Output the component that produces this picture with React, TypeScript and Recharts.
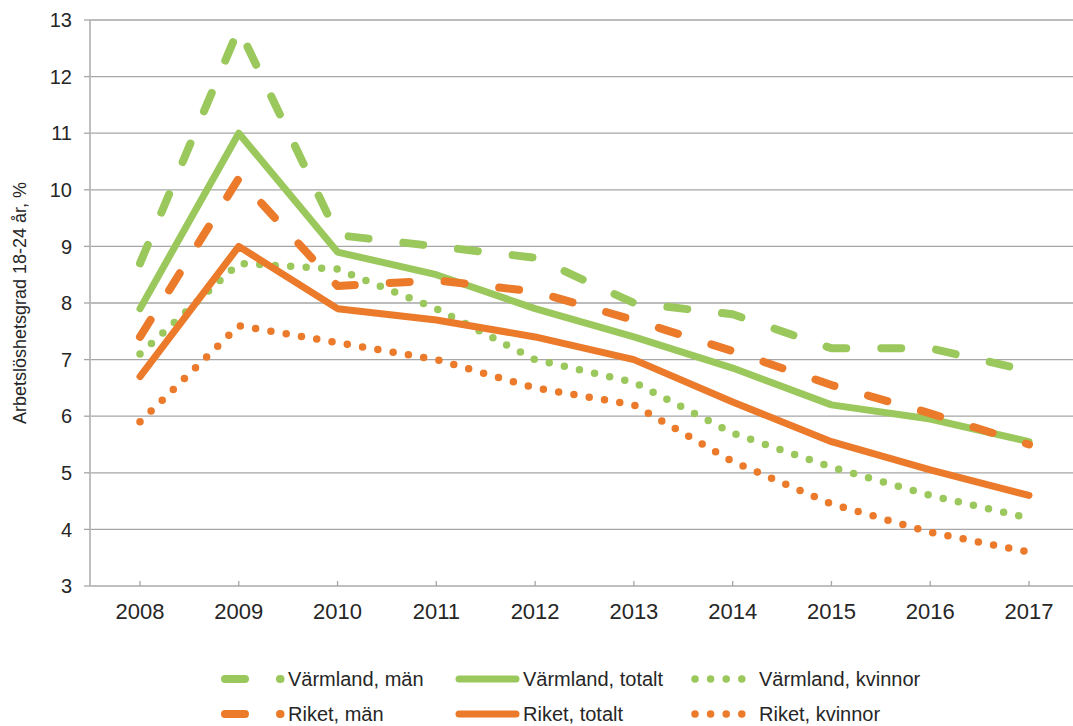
import React from 'react';
import { LineChart, Line, XAxis, YAxis, CartesianGrid } from 'recharts';

const years = ['2008', '2009', '2010', '2011', '2012', '2013', '2014', '2015', '2016', '2017'];
const varmlandMan = [8.7, 12.85, 9.2, 9.0, 8.8, 8.0, 7.8, 7.2, 7.2, 6.8];
const varmlandTotalt = [7.9, 11.0, 8.9, 8.5, 7.9, 7.4, 6.85, 6.2, 5.95, 5.55];
const varmlandKvinnor = [7.1, 8.7, 8.6, 7.9, 7.0, 6.6, 5.7, 5.1, 4.6, 4.2];
const riketMan = [7.4, 10.2, 8.3, 8.4, 8.2, 7.7, 7.15, 6.55, 6.05, 5.5];
const riketTotalt = [6.7, 9.0, 7.9, 7.7, 7.4, 7.0, 6.25, 5.55, 5.05, 4.6];
const riketKvinnor = [5.9, 7.6, 7.3, 7.0, 6.5, 6.2, 5.2, 4.45, 3.95, 3.6];
const yTicks = [3, 4, 5, 6, 7, 8, 9, 10, 11, 12, 13];

const GREEN = '#9BC85C';
const ORANGE = '#EB7A2A';
const DASH = '20 35';
const DOT = '0 15.5';

const series = [
  { key: 'vm', name: 'Värmland, män', values: varmlandMan, color: GREEN, kind: 'dash' },
  { key: 'vt', name: 'Värmland, totalt', values: varmlandTotalt, color: GREEN, kind: 'solid' },
  { key: 'vk', name: 'Värmland, kvinnor', values: varmlandKvinnor, color: GREEN, kind: 'dot' },
  { key: 'rm', name: 'Riket, män', values: riketMan, color: ORANGE, kind: 'dash' },
  { key: 'rt', name: 'Riket, totalt', values: riketTotalt, color: ORANGE, kind: 'solid' },
  { key: 'rk', name: 'Riket, kvinnor', values: riketKvinnor, color: ORANGE, kind: 'dot' },
];

const data = years.map((y, i) => {
  const row: any = { year: y };
  series.forEach((s) => { row[s.key] = s.values[i]; });
  return row;
});

const dashFor = (kind: string) => (kind === 'dash' ? DASH : kind === 'dot' ? DOT : undefined);
const widthFor = (kind: string) => (kind === 'solid' ? 7 : kind === 'dash' ? 8 : 7.5);

const FONT = '"Liberation Sans", Arial, sans-serif';
const TEXT = '#262626';

const legendCols = [
  { textX: 288, line: [225, 280.5], dotDash: '' },
  { textX: 523, line: [459, 516], dotDash: '' },
  { textX: 759, line: [695, 746], dotDash: '0 15.6' },
];
const legendRows = [679, 714];

function LegendOverlay() {
  return (
    <svg width={1073} height={726} style={{ position: 'absolute', left: 0, top: 0, pointerEvents: 'none' }}>
      {series.map((s, i) => {
        const col = legendCols[i % 3];
        const y = legendRows[Math.floor(i / 3)];
        return (
          <g key={s.key}>
            <line
              x1={col.line[0]}
              x2={col.line[1]}
              y1={y}
              y2={y}
              stroke={s.color}
              strokeWidth={widthFor(s.kind)}
              strokeLinecap="round"
              strokeDasharray={s.kind === 'dot' ? col.dotDash : dashFor(s.kind)}
            />
            <text x={col.textX} y={y} dy="0.35em" fontSize={20} fontFamily={FONT} fill={TEXT}>
              {s.name}
            </text>
          </g>
        );
      })}
    </svg>
  );
}

export default function App() {
  return (
    <div style={{ position: 'absolute', left: 0, top: 0, width: 1073, height: 726, background: '#fff', fontFamily: FONT }}>
      <LineChart width={1073} height={726} data={data} margin={{ top: 20, right: 0, bottom: 100, left: 0 }}>
        <CartesianGrid horizontal vertical={false} stroke="#a6a6a6" strokeWidth={1.3} />
        <XAxis
          dataKey="year"
          height={40}
          padding={{ left: 50, right: 44 }}
          axisLine={{ stroke: '#bfbfbf', strokeWidth: 2 }}
          tickLine={{ stroke: '#a6a6a6', strokeWidth: 1.3 }}
          tickSize={-5}
          tickMargin={22}
          tick={{ fontSize: 22, fill: TEXT, fontFamily: FONT }}
          interval={0}
        />
        <YAxis
          width={90}
          domain={[3, 13]}
          ticks={yTicks}
          interval={0}
          axisLine={{ stroke: '#bfbfbf', strokeWidth: 2 }}
          tickLine={{ stroke: '#a6a6a6', strokeWidth: 1.3 }}
          tickSize={6}
          tickMargin={12}
          tick={{ fontSize: 20, fill: TEXT, fontFamily: FONT }}
          label={{
            value: 'Arbetslöshetsgrad 18-24 år, %',
            angle: -90,
            position: 'insideLeft',
            offset: 20,
            style: { textAnchor: 'middle', fontSize: 18, fill: TEXT, fontFamily: FONT },
          }}
        />
        {series.map((s) => (
          <Line
            key={s.key}
            dataKey={s.key}
            name={s.name}
            type="linear"
            stroke={s.color}
            strokeWidth={widthFor(s.kind)}
            strokeDasharray={dashFor(s.kind)}
            strokeLinecap="round"
            strokeLinejoin="round"
            dot={false}
            activeDot={false}
            isAnimationActive={false}
          />
        ))}
      </LineChart>
      <LegendOverlay />
    </div>
  );
}
